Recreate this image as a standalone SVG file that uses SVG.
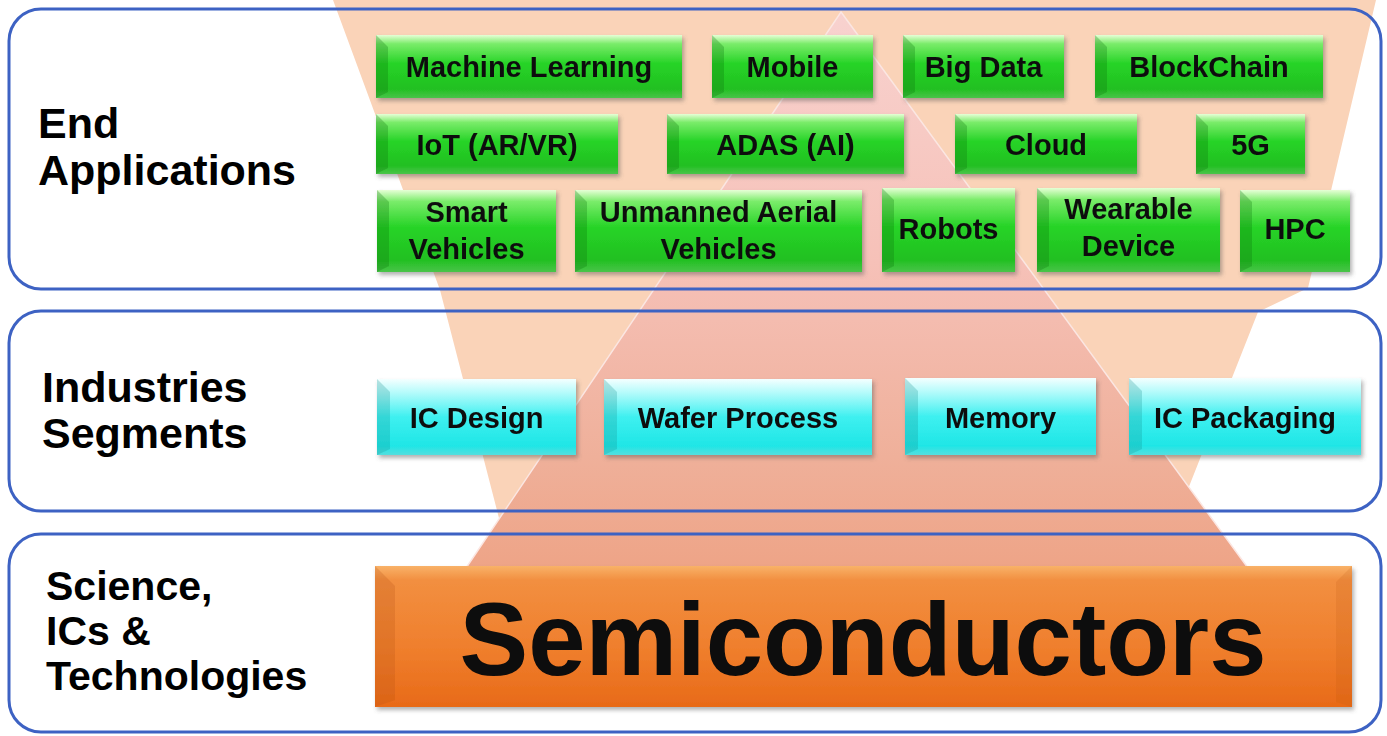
<svg xmlns="http://www.w3.org/2000/svg" width="1387" height="736" viewBox="0 0 1387 736">
<defs>
<linearGradient id="gGreen" x1="0" y1="0" x2="0" y2="1">
<stop offset="0" stop-color="#e6ffd6"/>
<stop offset="0.14" stop-color="#7aec6a"/>
<stop offset="0.45" stop-color="#28d428"/>
<stop offset="0.85" stop-color="#20c020"/>
<stop offset="1" stop-color="#49c449"/>
</linearGradient>
<linearGradient id="gCyan" x1="0" y1="0" x2="0" y2="1">
<stop offset="0" stop-color="#f4ffff"/>
<stop offset="0.18" stop-color="#b4fbfb"/>
<stop offset="0.5" stop-color="#3ef0f0"/>
<stop offset="0.88" stop-color="#1fe6e6"/>
<stop offset="1" stop-color="#54dede"/>
</linearGradient>
<linearGradient id="gOrange" x1="0" y1="0" x2="0" y2="1">
<stop offset="0" stop-color="#f9b268"/>
<stop offset="0.1" stop-color="#f28f40"/>
<stop offset="0.6" stop-color="#ef7e2c"/>
<stop offset="1" stop-color="#e86a18"/>
</linearGradient>
<linearGradient id="gPyr" x1="0" y1="0" x2="0" y2="1">
<stop offset="0" stop-color="#f8d2cf"/>
<stop offset="0.45" stop-color="#f6c1b8"/>
<stop offset="0.8" stop-color="#efb09a"/>
<stop offset="1" stop-color="#eea487"/>
</linearGradient>
<filter id="sh" x="-5%" y="-10%" width="112%" height="130%">
<feDropShadow dx="2" dy="3" stdDeviation="2" flood-color="#555" flood-opacity="0.45"/>
</filter>
<style>
.frame{fill:none;stroke:#3d62c3;stroke-width:3}
.gbox{fill:url(#gGreen)}
.cbox{fill:url(#gCyan)}
.lbev{fill:#0b6e0b;opacity:0.28}
.clbev{fill:#138a8a;opacity:0.25}
.t{font-family:"Liberation Sans",Arial,sans-serif;font-weight:bold;font-size:29px;fill:#111;text-anchor:middle}
.side{font-family:"Liberation Sans",Arial,sans-serif;font-weight:bold;font-size:43px;fill:#000}
.side2{font-family:"Liberation Sans",Arial,sans-serif;font-weight:bold;font-size:41px;fill:#000}
</style>
</defs>
<rect width="1387" height="736" fill="#ffffff"/>
<g id="background">
<polygon points="333,0 1376,0 1308,288 1258,312 1175,522 500,522 440,290" fill="#fad3b8"/>
<polygon points="841,12 1248,568 466,568" fill="url(#gPyr)" stroke="#fbe6e2" stroke-width="1.5"/>
</g>
<g id="frames">
<rect id="layer-end" class="frame" x="9" y="9" width="1372" height="280" rx="32"/>
<rect id="layer-ind" class="frame" x="9" y="311" width="1372" height="200" rx="32"/>
<rect id="layer-sci" class="frame" x="9" y="534" width="1372" height="198" rx="32"/>
</g>
<g id="side-labels">
<text class="side" x="38" y="138">End</text>
<text class="side" x="38" y="185">Applications</text>
<text class="side" x="42" y="402">Industries</text>
<text class="side" x="42" y="448">Segments</text>
<text class="side2" x="46" y="600">Science,</text>
<text class="side2" x="46" y="645">ICs &amp;</text>
<text class="side2" x="46" y="690">Technologies</text>
</g>
<g id="connectors"/>
<g id="n-ml" filter="url(#sh)"><rect class="gbox" x="376" y="35" width="306" height="63"/><polygon class="lbev" points="376,35 388,47 388,92 376,98"/><text class="t" x="529" y="77">Machine Learning</text></g>
<g id="n-mobile" filter="url(#sh)"><rect class="gbox" x="712" y="35" width="161" height="63"/><polygon class="lbev" points="712,35 724,47 724,92 712,98"/><text class="t" x="792.5" y="77">Mobile</text></g>
<g id="n-bigdata" filter="url(#sh)"><rect class="gbox" x="903" y="35" width="161" height="63"/><polygon class="lbev" points="903,35 915,47 915,92 903,98"/><text class="t" x="983.5" y="77">Big Data</text></g>
<g id="n-blockchain" filter="url(#sh)"><rect class="gbox" x="1095" y="35" width="228" height="63"/><polygon class="lbev" points="1095,35 1107,47 1107,92 1095,98"/><text class="t" x="1209" y="77">BlockChain</text></g>
<g id="n-iot" filter="url(#sh)"><rect class="gbox" x="376" y="114" width="242" height="60"/><polygon class="lbev" points="376,114 388,126 388,168 376,174"/><text class="t" x="497" y="155">IoT (AR/VR)</text></g>
<g id="n-adas" filter="url(#sh)"><rect class="gbox" x="667" y="114" width="237" height="60"/><polygon class="lbev" points="667,114 679,126 679,168 667,174"/><text class="t" x="785.5" y="155">ADAS (AI)</text></g>
<g id="n-cloud" filter="url(#sh)"><rect class="gbox" x="955" y="114" width="182" height="60"/><polygon class="lbev" points="955,114 967,126 967,168 955,174"/><text class="t" x="1046" y="155">Cloud</text></g>
<g id="n-5g" filter="url(#sh)"><rect class="gbox" x="1196" y="114" width="109" height="60"/><polygon class="lbev" points="1196,114 1208,126 1208,168 1196,174"/><text class="t" x="1250.5" y="155">5G</text></g>
<g id="n-smart" filter="url(#sh)"><rect class="gbox" x="377" y="190" width="179" height="82"/><polygon class="lbev" points="377,190 389,202 389,266 377,272"/><text class="t" x="466.5" y="222">Smart</text><text class="t" x="466.5" y="259">Vehicles</text></g>
<g id="n-uav" filter="url(#sh)"><rect class="gbox" x="575" y="190" width="287" height="82"/><polygon class="lbev" points="575,190 587,202 587,266 575,272"/><text class="t" x="718.5" y="222">Unmanned Aerial</text><text class="t" x="718.5" y="259">Vehicles</text></g>
<g id="n-robots" filter="url(#sh)"><rect class="gbox" x="882" y="188" width="133" height="84"/><polygon class="lbev" points="882,188 894,200 894,266 882,272"/><text class="t" x="948.5" y="239">Robots</text></g>
<g id="n-wearable" filter="url(#sh)"><rect class="gbox" x="1037" y="188" width="183" height="84"/><polygon class="lbev" points="1037,188 1049,200 1049,266 1037,272"/><text class="t" x="1128.5" y="219">Wearable</text><text class="t" x="1128.5" y="256">Device</text></g>
<g id="n-hpc" filter="url(#sh)"><rect class="gbox" x="1240" y="190" width="110" height="82"/><polygon class="lbev" points="1240,190 1252,202 1252,266 1240,272"/><text class="t" x="1295" y="239">HPC</text></g>
<g id="n-icdesign" filter="url(#sh)"><rect class="cbox" x="377" y="379" width="199" height="76"/><polygon class="clbev" points="377,379 390,392 390,449 377,455"/><text class="t" x="476.5" y="428">IC Design</text></g>
<g id="n-wafer" filter="url(#sh)"><rect class="cbox" x="604" y="379" width="268" height="76"/><polygon class="clbev" points="604,379 617,392 617,449 604,455"/><text class="t" x="738" y="428">Wafer Process</text></g>
<g id="n-memory" filter="url(#sh)"><rect class="cbox" x="905" y="378" width="191" height="77"/><polygon class="clbev" points="905,378 918,391 918,449 905,455"/><text class="t" x="1000.5" y="428">Memory</text></g>
<g id="n-icpack" filter="url(#sh)"><rect class="cbox" x="1129" y="378" width="232" height="77"/><polygon class="clbev" points="1129,378 1142,391 1142,449 1129,455"/><text class="t" x="1245" y="428">IC Packaging</text></g>
<g id="n-semi" filter="url(#sh)"><rect x="375" y="566" width="977" height="141" fill="url(#gOrange)"/><polygon points="375,566 395,586 395,700 375,707" fill="#b34f10" opacity="0.22"/><polygon points="1352,566 1336,582 1336,702 1352,707" fill="#b34f10" opacity="0.15"/><text x="863" y="675" font-family="'Liberation Sans',Arial,sans-serif" font-weight="bold" font-size="103" fill="#0a0a0a" text-anchor="middle">Semiconductors</text></g>
</svg>
